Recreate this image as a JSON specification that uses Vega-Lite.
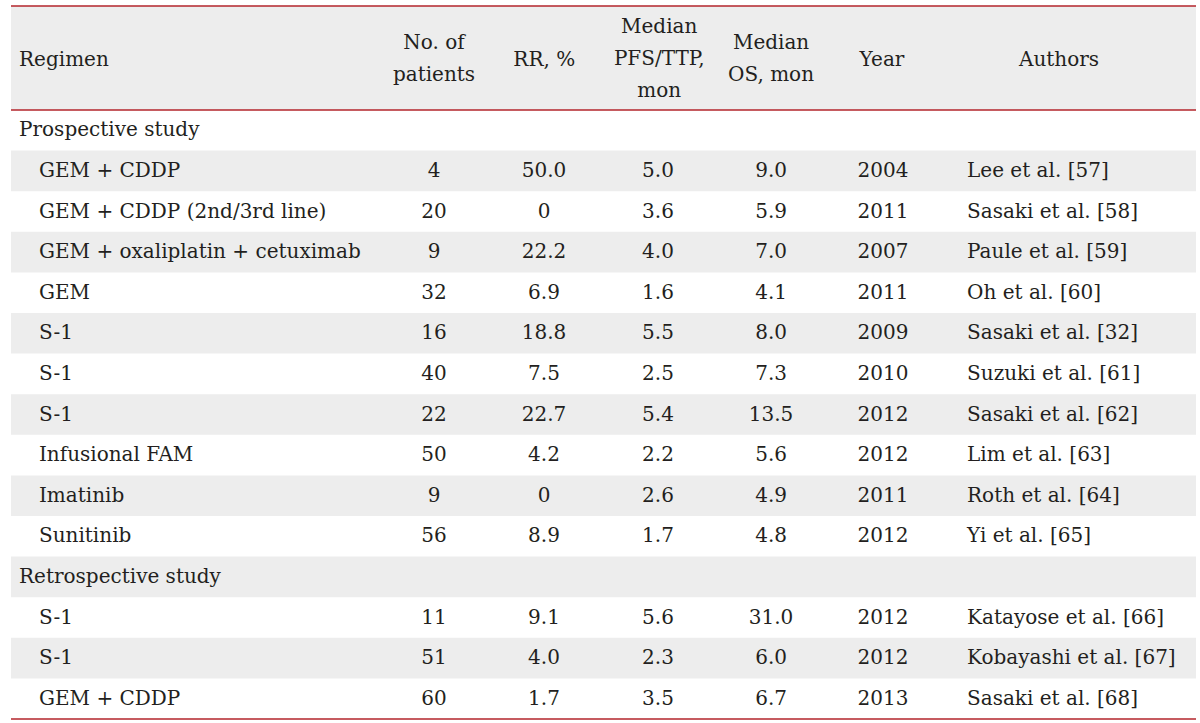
{
  "$schema": "https://vega.github.io/schema/vega-lite/v6.json",
  "background": "white",
  "padding": {"left": 10, "top": 5, "right": 5, "bottom": 4},
  "spacing": 0,
  "bounds": "flush",
  "config": {
    "view": {"stroke": null},
    "text": {"font": "DejaVu Serif", "fontSize": 20, "color": "#231f20", "baseline": "middle", "lineHeight": 32},
    "concat": {"spacing": 0}
  },
  "datasets": {
    "rows": [
      {"row": 0, "kind": "section", "regimen": "Prospective study"},
      {"row": 1, "kind": "item", "regimen": "GEM + CDDP", "patients": 4, "rr": 50.0, "pfs": 5.0, "os": 9.0, "year": 2004, "authors": "Lee et al. [57]"},
      {"row": 2, "kind": "item", "regimen": "GEM + CDDP (2nd/3rd line)", "patients": 20, "rr": 0, "pfs": 3.6, "os": 5.9, "year": 2011, "authors": "Sasaki et al. [58]"},
      {"row": 3, "kind": "item", "regimen": "GEM + oxaliplatin + cetuximab", "patients": 9, "rr": 22.2, "pfs": 4.0, "os": 7.0, "year": 2007, "authors": "Paule et al. [59]"},
      {"row": 4, "kind": "item", "regimen": "GEM", "patients": 32, "rr": 6.9, "pfs": 1.6, "os": 4.1, "year": 2011, "authors": "Oh et al. [60]"},
      {"row": 5, "kind": "item", "regimen": "S-1", "patients": 16, "rr": 18.8, "pfs": 5.5, "os": 8.0, "year": 2009, "authors": "Sasaki et al. [32]"},
      {"row": 6, "kind": "item", "regimen": "S-1", "patients": 40, "rr": 7.5, "pfs": 2.5, "os": 7.3, "year": 2010, "authors": "Suzuki et al. [61]"},
      {"row": 7, "kind": "item", "regimen": "S-1", "patients": 22, "rr": 22.7, "pfs": 5.4, "os": 13.5, "year": 2012, "authors": "Sasaki et al. [62]"},
      {"row": 8, "kind": "item", "regimen": "Infusional FAM", "patients": 50, "rr": 4.2, "pfs": 2.2, "os": 5.6, "year": 2012, "authors": "Lim et al. [63]"},
      {"row": 9, "kind": "item", "regimen": "Imatinib", "patients": 9, "rr": 0, "pfs": 2.6, "os": 4.9, "year": 2011, "authors": "Roth et al. [64]"},
      {"row": 10, "kind": "item", "regimen": "Sunitinib", "patients": 56, "rr": 8.9, "pfs": 1.7, "os": 4.8, "year": 2012, "authors": "Yi et al. [65]"},
      {"row": 11, "kind": "section", "regimen": "Retrospective study"},
      {"row": 12, "kind": "item", "regimen": "S-1", "patients": 11, "rr": 9.1, "pfs": 5.6, "os": 31.0, "year": 2012, "authors": "Katayose et al. [66]"},
      {"row": 13, "kind": "item", "regimen": "S-1", "patients": 51, "rr": 4.0, "pfs": 2.3, "os": 6.0, "year": 2012, "authors": "Kobayashi et al. [67]"},
      {"row": 14, "kind": "item", "regimen": "GEM + CDDP", "patients": 60, "rr": 1.7, "pfs": 3.5, "os": 6.7, "year": 2013, "authors": "Sasaki et al. [68]"}
    ]
  },
  "vconcat": [
    {
      "width": 1185,
      "height": 104,
      "data": {"values": [{}]},
      "layer": [
        {"mark": {"type": "rect", "color": "#ededed"}, "encoding": {"x": {"value": 0}, "x2": {"value": "width"}, "y": {"value": 0}, "y2": {"value": "height"}}},
        {"mark": {"type": "rule", "color": "#b3242b", "strokeWidth": 1.5}, "encoding": {"x": {"value": 0}, "x2": {"value": "width"}, "y": {"value": 0}}},
        {"mark": {"type": "rule", "color": "#b3242b", "strokeWidth": 1.5}, "encoding": {"x": {"value": 0}, "x2": {"value": "width"}, "y": {"value": "height"}}},
        {"mark": {"type": "text", "align": "left", "text": "Regimen", "dy": 2}, "encoding": {"x": {"datum": 0.68, "type": "quantitative", "scale": {"domain": [0, 100], "zero": false, "nice": false}, "axis": null}}},
        {"mark": {"type": "text", "align": "center", "text": ["No. of", "patients"], "dy": -15}, "encoding": {"x": {"datum": 35.7, "type": "quantitative", "axis": null}}},
        {"mark": {"type": "text", "align": "center", "text": "RR, %", "dy": 2}, "encoding": {"x": {"datum": 45.0, "type": "quantitative", "axis": null}}},
        {"mark": {"type": "text", "align": "center", "text": ["Median", "PFS/TTP,", "mon"], "dy": -31}, "encoding": {"x": {"datum": 54.7, "type": "quantitative", "axis": null}}},
        {"mark": {"type": "text", "align": "center", "text": ["Median", "OS, mon"], "dy": -15}, "encoding": {"x": {"datum": 64.14, "type": "quantitative", "axis": null}}},
        {"mark": {"type": "text", "align": "center", "text": "Year", "dy": 2}, "encoding": {"x": {"datum": 73.5, "type": "quantitative", "axis": null}}},
        {"mark": {"type": "text", "align": "center", "text": "Authors", "dy": 2}, "encoding": {"x": {"datum": 88.44, "type": "quantitative", "axis": null}}}
      ]
    },
    {
      "width": 1185,
      "height": 609,
      "data": {"name": "rows"},
      "layer": [
        {
          "transform": [{"filter": "datum.row % 2 === 1"}],
          "mark": {"type": "rect", "color": "#ededed"},
          "encoding": {
            "x": {"value": 0}, "x2": {"value": "width"},
            "y": {"field": "row", "type": "ordinal", "axis": null, "scale": {"domain": [0,1,2,3,4,5,6,7,8,9,10,11,12,13,14], "paddingInner": 0, "paddingOuter": 0}}
          }
        },
        {
          "data": {"values": [{}]},
          "mark": {"type": "rule", "color": "#b3242b", "strokeWidth": 1.5},
          "encoding": {"x": {"value": 0}, "x2": {"value": "width"}, "y": {"value": "height"}}
        },
        {
          "transform": [{"filter": "datum.kind === 'section'"}],
          "mark": {"type": "text", "align": "left"},
          "encoding": {
            "x": {"datum": 0.68, "type": "quantitative", "scale": {"domain": [0, 100], "zero": false, "nice": false}, "axis": null},
            "y": {"field": "row", "type": "ordinal", "axis": null},
            "text": {"field": "regimen", "type": "nominal"}
          }
        },
        {
          "transform": [{"filter": "datum.kind === 'item'"}],
          "mark": {"type": "text", "align": "left"},
          "encoding": {
            "x": {"datum": 2.36, "type": "quantitative", "axis": null},
            "y": {"field": "row", "type": "ordinal", "axis": null},
            "text": {"field": "regimen", "type": "nominal"}
          }
        },
        {
          "transform": [{"filter": "datum.kind === 'item'"}],
          "mark": {"type": "text", "align": "center"},
          "encoding": {
            "x": {"datum": 35.7, "type": "quantitative", "axis": null},
            "y": {"field": "row", "type": "ordinal", "axis": null},
            "text": {"field": "patients", "type": "nominal"}
          }
        },
        {
          "transform": [{"filter": "datum.kind === 'item'"}],
          "mark": {"type": "text", "align": "center"},
          "encoding": {
            "x": {"datum": 44.98, "type": "quantitative", "axis": null},
            "y": {"field": "row", "type": "ordinal", "axis": null},
            "text": {"condition": {"test": "datum.rr === 0", "value": "0"}, "field": "rr", "type": "quantitative", "format": ".1f"}
          }
        },
        {
          "transform": [{"filter": "datum.kind === 'item'"}],
          "mark": {"type": "text", "align": "center"},
          "encoding": {
            "x": {"datum": 54.6, "type": "quantitative", "axis": null},
            "y": {"field": "row", "type": "ordinal", "axis": null},
            "text": {"field": "pfs", "type": "quantitative", "format": ".1f"}
          }
        },
        {
          "transform": [{"filter": "datum.kind === 'item'"}],
          "mark": {"type": "text", "align": "center"},
          "encoding": {
            "x": {"datum": 64.14, "type": "quantitative", "axis": null},
            "y": {"field": "row", "type": "ordinal", "axis": null},
            "text": {"field": "os", "type": "quantitative", "format": ".1f"}
          }
        },
        {
          "transform": [{"filter": "datum.kind === 'item'"}],
          "mark": {"type": "text", "align": "center"},
          "encoding": {
            "x": {"datum": 73.59, "type": "quantitative", "axis": null},
            "y": {"field": "row", "type": "ordinal", "axis": null},
            "text": {"field": "year", "type": "nominal"}
          }
        },
        {
          "transform": [{"filter": "datum.kind === 'item'"}],
          "mark": {"type": "text", "align": "left"},
          "encoding": {
            "x": {"datum": 80.68, "type": "quantitative", "axis": null},
            "y": {"field": "row", "type": "ordinal", "axis": null},
            "text": {"field": "authors", "type": "nominal"}
          }
        }
      ]
    }
  ]
}
